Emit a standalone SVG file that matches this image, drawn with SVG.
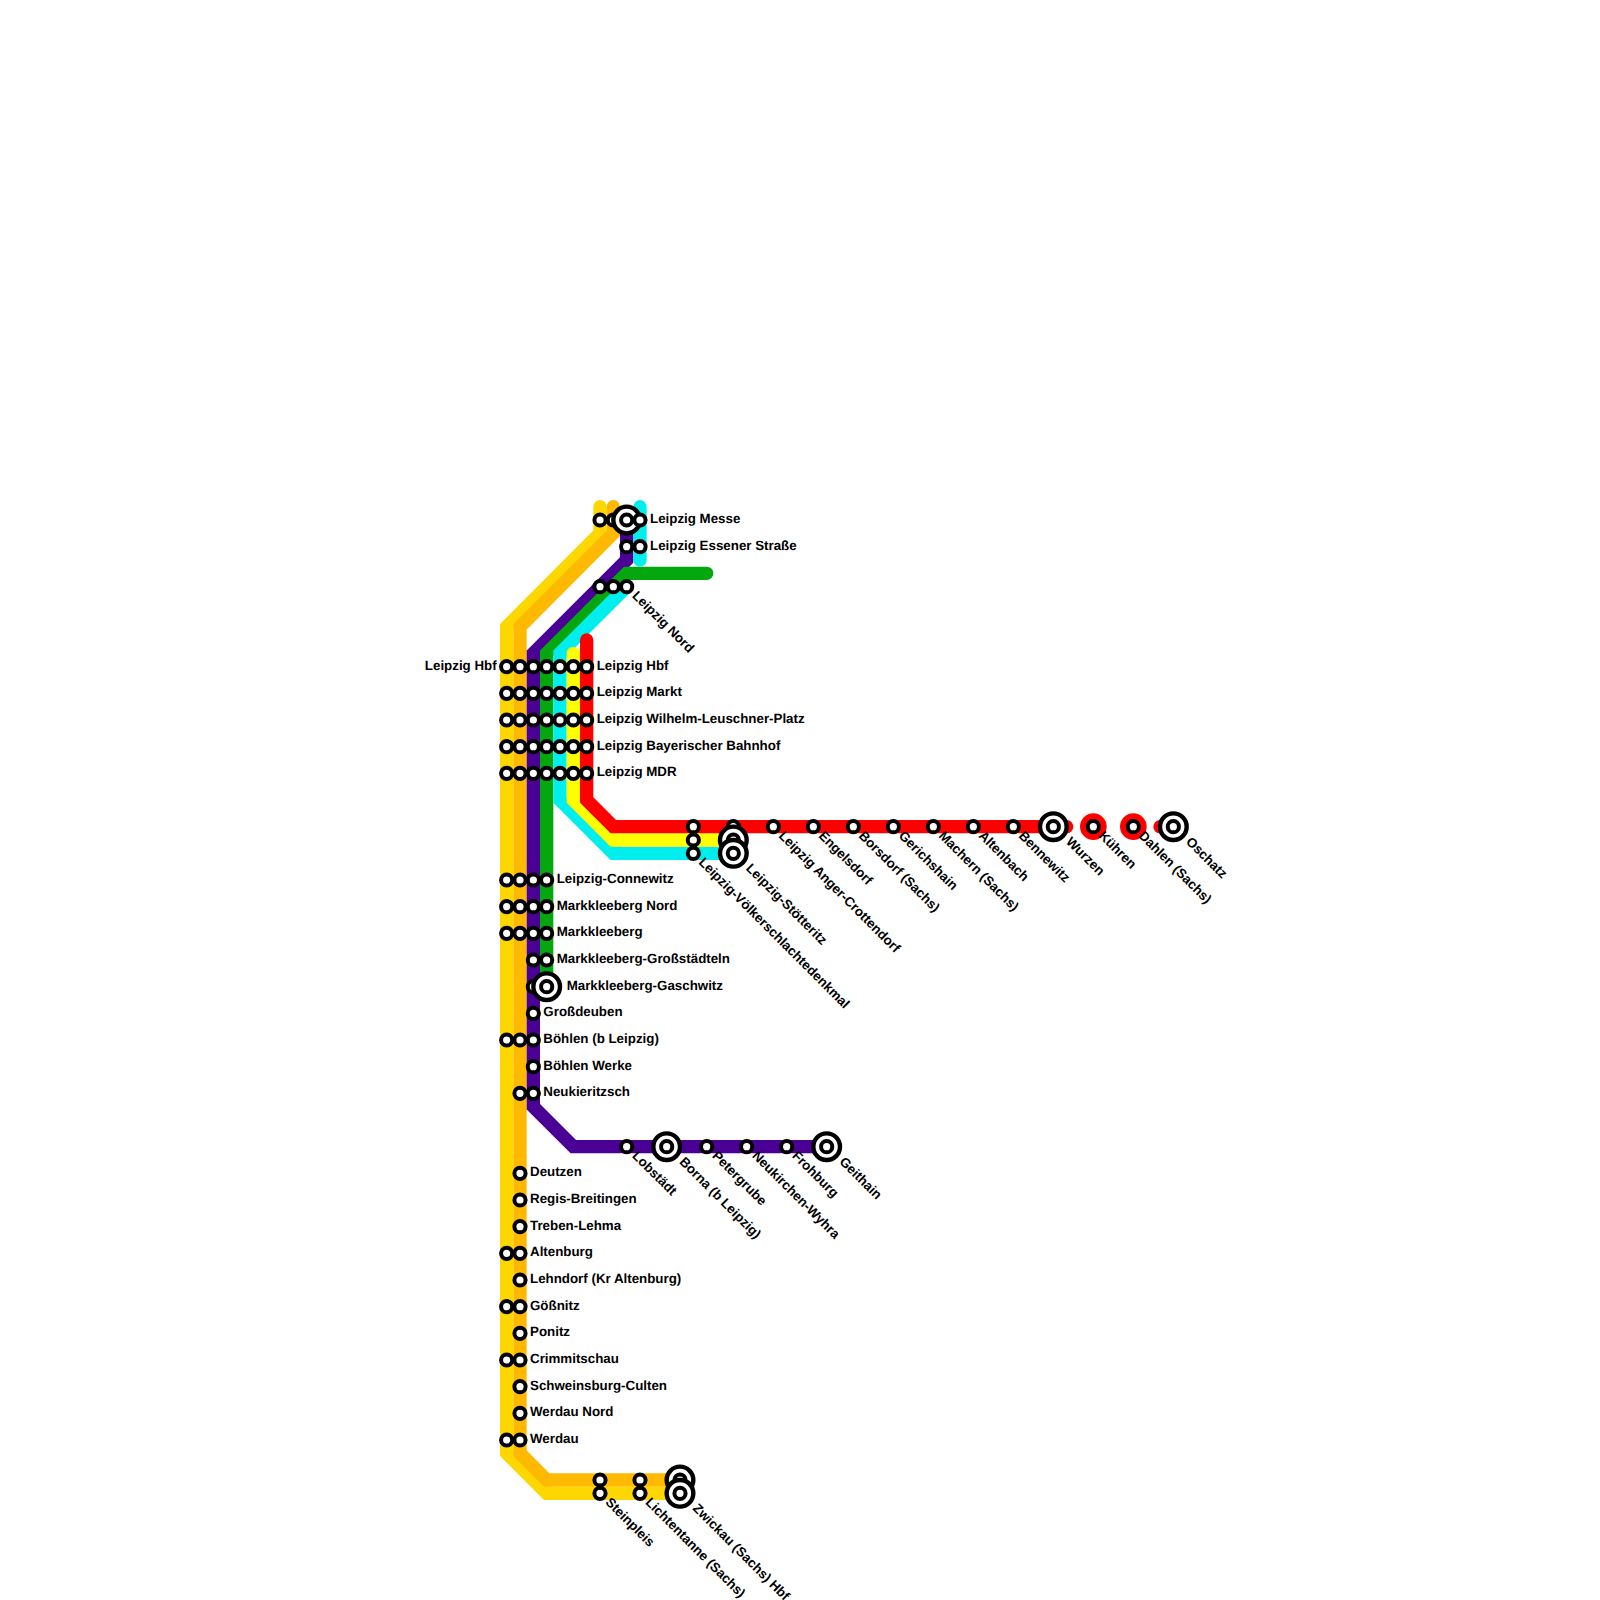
<svg xmlns="http://www.w3.org/2000/svg" width="1600" height="1600" viewBox="0 0 1600 1600">
<style>
.l{fill:none;stroke-width:13.33;stroke-linecap:round;stroke-linejoin:miter}
.s{fill:#fff;stroke:#000;stroke-width:4}
.t{fill:#fff;stroke:#000;stroke-width:4.4}
text{font-family:"Liberation Sans",Arial,sans-serif;font-weight:700;font-size:13.33px;fill:#000;text-rendering:geometricPrecision}
</style>
<defs>
<circle id="st" class="s" r="5.6"/>
<g id="tm"><circle class="t" r="13.33"/><circle class="s" r="5.6"/></g>
</defs>
<rect width="1600" height="1600" fill="#fff"/>
<g id="connectors">
<path class="l" stroke="#FFD700" d="M600 506.67V533.33L506.67 626.67V1453.33L546.67 1493.33H680"/>
<path class="l" stroke="#FFB900" d="M613.33 506.67V533.33L520 626.67V1453.33L546.67 1480H680"/>
<path class="l" stroke="#4B0095" d="M626.67 520V560L533.33 653.33V1106.67L573.33 1146.67H826.67"/>
<path class="l" stroke="#05A70F" d="M706.67 573.33H626.67L546.67 653.33V986.67"/>
<path class="l" stroke="#00EEEE" d="M640 506.67V560"/>
<path class="l" stroke="#00EEEE" d="M626.67 586.67L560 653.33V800L613.33 853.33H733.33"/>
<path class="l" stroke="#FFFF00" d="M573.33 653.33V800L613.33 840H733.33"/>
<path class="l" stroke="#FF0000" d="M586.67 640V800L613.33 826.67H1066.67"/>
<path class="l" stroke="#FF0000" d="M1160 826.67H1173.33"/>
<circle cx="1093.33" cy="826.67" r="13.33" fill="#FF0000"/>
<circle cx="1133.33" cy="826.67" r="13.33" fill="#FF0000"/>
</g>
<g id="n-messe"><use href="#st" x="600" y="520"/><use href="#st" x="613.33" y="520"/><use href="#tm" x="626.67" y="520"/><use href="#st" x="640" y="520"/><text x="650" y="523">Leipzig Messe</text></g>
<g id="n-essener"><use href="#st" x="626.67" y="546.67"/><use href="#st" x="640" y="546.67"/><text x="650" y="549.6">Leipzig Essener Straße</text></g>
<g id="n-nord"><use href="#st" x="600" y="586.67"/><use href="#st" x="613.33" y="586.67"/><use href="#st" x="626.67" y="586.67"/><text transform="translate(631.6 596.4) rotate(45)">Leipzig Nord</text></g>
<g id="n-hbf"><use href="#st" x="506.67" y="666.67"/><use href="#st" x="520" y="666.67"/><use href="#st" x="533.33" y="666.67"/><use href="#st" x="546.67" y="666.67"/><use href="#st" x="560" y="666.67"/><use href="#st" x="573.33" y="666.67"/><use href="#st" x="586.67" y="666.67"/><text x="496.67" y="670" text-anchor="end">Leipzig Hbf</text><text x="596.67" y="670">Leipzig Hbf</text></g>
<g id="n-markt"><use href="#st" x="506.67" y="693.33"/><use href="#st" x="520" y="693.33"/><use href="#st" x="533.33" y="693.33"/><use href="#st" x="546.67" y="693.33"/><use href="#st" x="560" y="693.33"/><use href="#st" x="573.33" y="693.33"/><use href="#st" x="586.67" y="693.33"/><text x="596.67" y="696.4">Leipzig Markt</text></g>
<g id="n-wlp"><use href="#st" x="506.67" y="720"/><use href="#st" x="520" y="720"/><use href="#st" x="533.33" y="720"/><use href="#st" x="546.67" y="720"/><use href="#st" x="560" y="720"/><use href="#st" x="573.33" y="720"/><use href="#st" x="586.67" y="720"/><text x="596.67" y="723">Leipzig Wilhelm-Leuschner-Platz</text></g>
<g id="n-bayer"><use href="#st" x="506.67" y="746.67"/><use href="#st" x="520" y="746.67"/><use href="#st" x="533.33" y="746.67"/><use href="#st" x="546.67" y="746.67"/><use href="#st" x="560" y="746.67"/><use href="#st" x="573.33" y="746.67"/><use href="#st" x="586.67" y="746.67"/><text x="596.67" y="749.6">Leipzig Bayerischer Bahnhof</text></g>
<g id="n-mdr"><use href="#st" x="506.67" y="773.33"/><use href="#st" x="520" y="773.33"/><use href="#st" x="533.33" y="773.33"/><use href="#st" x="546.67" y="773.33"/><use href="#st" x="560" y="773.33"/><use href="#st" x="573.33" y="773.33"/><use href="#st" x="586.67" y="773.33"/><text x="596.67" y="776.4">Leipzig MDR</text></g>
<g id="n-voelk"><use href="#st" x="693.33" y="826.67"/><use href="#st" x="693.33" y="840"/><use href="#st" x="693.33" y="853.33"/><text transform="translate(698 863) rotate(45)">Leipzig-Völkerschlachtedenkmal</text></g>
<g id="n-stoett"><use href="#st" x="733.33" y="826.67"/><use href="#tm" x="733.33" y="840"/><use href="#tm" x="733.33" y="853.33"/><text transform="translate(745.3 869) rotate(45)">Leipzig-Stötteritz</text></g>
<g id="n-anger"><use href="#st" x="773.33" y="826.67"/><text transform="translate(778 836.4) rotate(45)">Leipzig Anger-Crottendorf</text></g>
<g id="n-engels"><use href="#st" x="813.33" y="826.67"/><text transform="translate(818 836.4) rotate(45)">Engelsdorf</text></g>
<g id="n-borsdorf"><use href="#st" x="853.33" y="826.67"/><text transform="translate(858 836.4) rotate(45)">Borsdorf (Sachs)</text></g>
<g id="n-gerichshain"><use href="#st" x="893.33" y="826.67"/><text transform="translate(898 836.4) rotate(45)">Gerichshain</text></g>
<g id="n-machern"><use href="#st" x="933.33" y="826.67"/><text transform="translate(938 836.4) rotate(45)">Machern (Sachs)</text></g>
<g id="n-altenbach"><use href="#st" x="973.33" y="826.67"/><text transform="translate(978 836.4) rotate(45)">Altenbach</text></g>
<g id="n-bennewitz"><use href="#st" x="1013.33" y="826.67"/><text transform="translate(1018 836.4) rotate(45)">Bennewitz</text></g>
<g id="n-wurzen"><use href="#tm" x="1053.33" y="826.67"/><text transform="translate(1065.3 842.4) rotate(45)">Wurzen</text></g>
<g id="n-kuehren"><use href="#st" x="1093.33" y="826.67"/><text transform="translate(1098 836.4) rotate(45)">Kühren</text></g>
<g id="n-dahlen"><use href="#st" x="1133.33" y="826.67"/><text transform="translate(1138 836.4) rotate(45)">Dahlen (Sachs)</text></g>
<g id="n-oschatz"><use href="#tm" x="1173.33" y="826.67"/><text transform="translate(1185.3 842.4) rotate(45)">Oschatz</text></g>
<g id="n-connewitz"><use href="#st" x="506.67" y="880"/><use href="#st" x="520" y="880"/><use href="#st" x="533.33" y="880"/><use href="#st" x="546.67" y="880"/><text x="556.67" y="883">Leipzig-Connewitz</text></g>
<g id="n-mknord"><use href="#st" x="506.67" y="906.67"/><use href="#st" x="520" y="906.67"/><use href="#st" x="533.33" y="906.67"/><use href="#st" x="546.67" y="906.67"/><text x="556.67" y="909.6">Markkleeberg Nord</text></g>
<g id="n-mk"><use href="#st" x="506.67" y="933.33"/><use href="#st" x="520" y="933.33"/><use href="#st" x="533.33" y="933.33"/><use href="#st" x="546.67" y="933.33"/><text x="556.67" y="936.4">Markkleeberg</text></g>
<g id="n-mkgross"><use href="#st" x="533.33" y="960"/><use href="#st" x="546.67" y="960"/><text x="556.67" y="963">Markkleeberg-Großstädteln</text></g>
<g id="n-mkgasch"><use href="#st" x="533.33" y="986.67"/><use href="#tm" x="546.67" y="986.67"/><text x="566.67" y="989.6">Markkleeberg-Gaschwitz</text></g>
<g id="n-grossdeuben"><use href="#st" x="533.33" y="1013.33"/><text x="543.33" y="1016.4">Großdeuben</text></g>
<g id="n-boehlen"><use href="#st" x="506.67" y="1040"/><use href="#st" x="520" y="1040"/><use href="#st" x="533.33" y="1040"/><text x="543.33" y="1043">Böhlen (b Leipzig)</text></g>
<g id="n-bwerke"><use href="#st" x="533.33" y="1066.67"/><text x="543.33" y="1069.6">Böhlen Werke</text></g>
<g id="n-neukieritzsch"><use href="#st" x="520" y="1093.33"/><use href="#st" x="533.33" y="1093.33"/><text x="543.33" y="1096.4">Neukieritzsch</text></g>
<g id="n-lobstaedt"><use href="#st" x="626.67" y="1146.67"/><text transform="translate(631.6 1156.4) rotate(45)">Lobstädt</text></g>
<g id="n-borna"><use href="#tm" x="666.67" y="1146.67"/><text transform="translate(678.7 1162.4) rotate(45)">Borna (b Leipzig)</text></g>
<g id="n-petergrube"><use href="#st" x="706.67" y="1146.67"/><text transform="translate(711.4 1156.4) rotate(45)">Petergrube</text></g>
<g id="n-neukirchen"><use href="#st" x="746.67" y="1146.67"/><text transform="translate(751.4 1156.4) rotate(45)">Neukirchen-Wyhra</text></g>
<g id="n-frohburg"><use href="#st" x="786.67" y="1146.67"/><text transform="translate(791.4 1156.4) rotate(45)">Frohburg</text></g>
<g id="n-geithain"><use href="#tm" x="826.67" y="1146.67"/><text transform="translate(838.7 1162.4) rotate(45)">Geithain</text></g>
<g id="n-deutzen"><use href="#st" x="520" y="1173.33"/><text x="530" y="1176.4">Deutzen</text></g>
<g id="n-regis"><use href="#st" x="520" y="1200"/><text x="530" y="1203">Regis-Breitingen</text></g>
<g id="n-treben"><use href="#st" x="520" y="1226.67"/><text x="530" y="1229.6">Treben-Lehma</text></g>
<g id="n-altenburg"><use href="#st" x="506.67" y="1253.33"/><use href="#st" x="520" y="1253.33"/><text x="530" y="1256.4">Altenburg</text></g>
<g id="n-lehndorf"><use href="#st" x="520" y="1280"/><text x="530" y="1283">Lehndorf (Kr Altenburg)</text></g>
<g id="n-goessnitz"><use href="#st" x="506.67" y="1306.67"/><use href="#st" x="520" y="1306.67"/><text x="530" y="1309.6">Gößnitz</text></g>
<g id="n-ponitz"><use href="#st" x="520" y="1333.33"/><text x="530" y="1336.4">Ponitz</text></g>
<g id="n-crimmitschau"><use href="#st" x="506.67" y="1360"/><use href="#st" x="520" y="1360"/><text x="530" y="1363">Crimmitschau</text></g>
<g id="n-schweinsburg"><use href="#st" x="520" y="1386.67"/><text x="530" y="1389.6">Schweinsburg-Culten</text></g>
<g id="n-werdaunord"><use href="#st" x="520" y="1413.33"/><text x="530" y="1416.4">Werdau Nord</text></g>
<g id="n-werdau"><use href="#st" x="506.67" y="1440"/><use href="#st" x="520" y="1440"/><text x="530" y="1443">Werdau</text></g>
<g id="n-steinpleis"><use href="#st" x="600" y="1480"/><use href="#st" x="600" y="1493.33"/><text transform="translate(604.7 1503) rotate(45)">Steinpleis</text></g>
<g id="n-lichtentanne"><use href="#st" x="640" y="1480"/><use href="#st" x="640" y="1493.33"/><text transform="translate(644.7 1503) rotate(45)">Lichtentanne (Sachs)</text></g>
<g id="n-zwickau"><use href="#tm" x="680" y="1480"/><use href="#tm" x="680" y="1493.33"/><text transform="translate(692 1509) rotate(45)">Zwickau (Sachs) Hbf</text></g>
</svg>
